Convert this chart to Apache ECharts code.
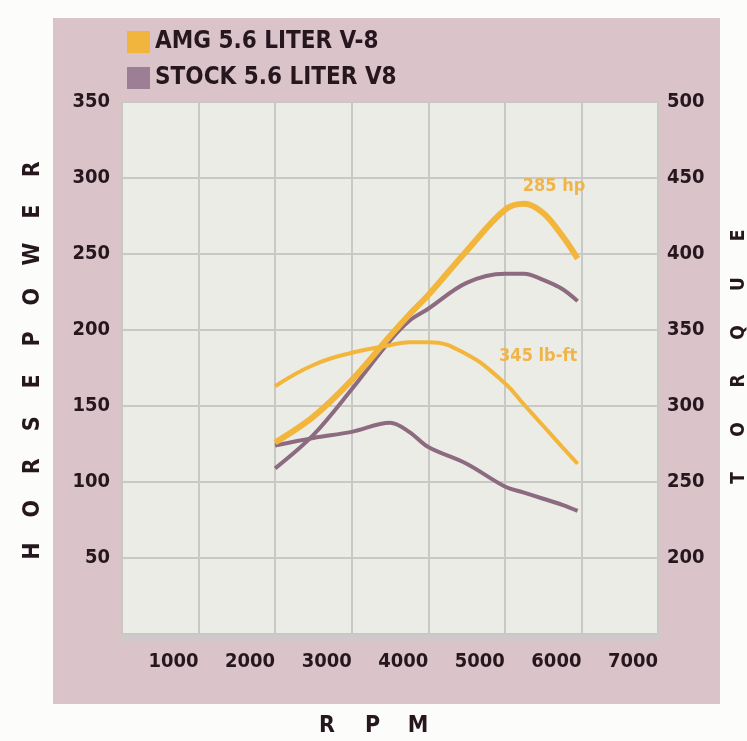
<!DOCTYPE html>
<html><head><meta charset="utf-8">
<script src="https://cdn.jsdelivr.net/npm/echarts/dist/echarts.min.js"></script>
<style>html,body{margin:0;padding:0;background:#fcfcfa;} #c{width:747px;height:741px;}</style>
</head><body><div id="c"></div>
<script>
// ---- data ----
const rpm      = [2000, 2500, 3000, 3500, 3750, 4000, 4500, 5000, 5250, 5500, 5750, 5950];
const amgHp    = [126, 143, 167, 196, 210, 223, 252, 279, 283, 277, 262, 247];
const stockHp  = [109, 131, 161, 193, 206, 214, 231, 237, 237, 233, 227, 219];
const amgTq    = [313, 327, 335, 340, 342, 342, 334, 315, 301, 287, 273, 262];
const stockTq  = [274, 279, 283, 289, 283, 273, 262, 247, 243, 239, 235, 231];
const seriesNames = ['AMG 5.6 LITER V-8', 'STOCK 5.6 LITER V8'];
const peakLabels = ['285 hp', '345 lb-ft'];
const hpTitle = 'HORSEPOWER', tqTitle = 'TORQUE', rpmTitle = 'RPM';

const FONT = '"DejaVu Sans Condensed","DejaVu Sans",sans-serif';
const INK = '#26171f';
const YEL = '#f2b63c', PUR = '#8c6a7f', LABEL = '#f0b54a';

const chart = echarts.init(document.getElementById('c'));
const pairs = arr => rpm.map((r, i) => [r, arr[i]]);
const peakIdx = arr => arr.indexOf(Math.max(...arr));

const graphics = [
  { type: 'rect', z: -10, shape: { x: 53, y: 18, width: 667, height: 686 }, style: { fill: '#dac3c9' } }
];
hpTitle.split('').forEach((ch, i) => graphics.push({
  type: 'text', x: 33, y: 551 - i * 42.4, rotation: Math.PI / 2,
  style: { text: ch, fill: INK, font: 'bold 23px ' + FONT, align: 'center', verticalAlign: 'middle' }
}));
tqTitle.split('').forEach((ch, i) => graphics.push({
  type: 'text', x: 739, y: 478 - i * 48.5, rotation: Math.PI / 2,
  style: { text: ch, fill: INK, font: 'bold 19px ' + FONT, align: 'center', verticalAlign: 'middle' }
}));
rpmTitle.split('').forEach((ch, i) => graphics.push({
  type: 'text', x: 327 + i * 45.5, y: 726,
  style: { text: ch, fill: INK, font: 'bold 23px ' + FONT, align: 'center', verticalAlign: 'middle' }
}));

const lbl = { fontFamily: FONT, fontWeight: 'bold', fontSize: 20, color: INK };
const mp = (arr, text, offset) => ({
  symbol: 'circle', symbolSize: 0, silent: true,
  data: [{ coord: [rpm[peakIdx(arr)], arr[peakIdx(arr)]], value: text }],
  label: { show: true, position: 'inside', formatter: text, offset: offset,
           color: LABEL, fontFamily: FONT, fontWeight: 'bold', fontSize: 18 }
});

chart.setOption({
  backgroundColor: '#fcfcfa',
  animation: false,
  graphic: graphics,
  legend: {
    orient: 'vertical', left: 122, top: 25, itemWidth: 23, itemHeight: 22, itemGap: 12,
    icon: 'rect', selectedMode: false,
    data: [
      { name: seriesNames[0], itemStyle: { color: '#f1b53d' } },
      { name: seriesNames[1], itemStyle: { color: '#9c7f94' } }
    ],
    textStyle: { fontFamily: FONT, fontWeight: 'bold', fontSize: 24, lineHeight: 22,
                 color: INK, padding: [0, 0, 0, 0] }
  },
  grid: { left: 122, top: 102, width: 536, height: 532, show: true,
          backgroundColor: '#ecece7', borderColor: '#cdc8c9', borderWidth: 2 },
  xAxis: {
    type: 'value', min: 0, max: 7000, interval: 1000, offset: 4,
    axisLine: { show: true, onZero: false, lineStyle: { color: '#d0c9cb', width: 6 } },
    axisTick: { show: false },
    axisLabel: Object.assign({ showMinLabel: false, align: 'right', margin: 14,
                               formatter: v => String(v) }, lbl),
    splitLine: { show: true, lineStyle: { color: '#c8c8c4', width: 2 } }
  },
  yAxis: [
    { type: 'value', min: 0, max: 350, interval: 50, position: 'left',
      axisLine: { show: false }, axisTick: { show: false },
      axisLabel: Object.assign({ showMinLabel: false, margin: 12 }, lbl),
      splitLine: { show: true, lineStyle: { color: '#c8c8c4', width: 2 } } },
    { type: 'value', min: 150, max: 500, interval: 50, position: 'right',
      axisLine: { show: false }, axisTick: { show: false },
      axisLabel: Object.assign({ showMinLabel: false, margin: 9 }, lbl),
      splitLine: { show: false } }
  ],
  series: [
    { name: seriesNames[1], type: 'line', yAxisIndex: 0, data: pairs(stockHp), smooth: 0.35,
      symbol: 'none', lineStyle: { color: PUR, width: 4 }, itemStyle: { color: PUR } },
    { name: seriesNames[1], type: 'line', yAxisIndex: 1, data: pairs(stockTq), smooth: 0.35,
      symbol: 'none', lineStyle: { color: PUR, width: 4 }, itemStyle: { color: PUR } },
    { name: seriesNames[0], type: 'line', yAxisIndex: 1, data: pairs(amgTq), smooth: 0.45,
      symbol: 'none', lineStyle: { color: YEL, width: 4 }, itemStyle: { color: YEL },
      markPoint: mp(amgTq, peakLabels[1], [129, 14]) },
    { name: seriesNames[0], type: 'line', yAxisIndex: 0, data: pairs(amgHp), smooth: 0.35,
      symbol: 'none', lineStyle: { color: YEL, width: 6 }, itemStyle: { color: YEL },
      markPoint: mp(amgHp, peakLabels[0], [30, -18]) }
  ]
});
</script></body></html>
